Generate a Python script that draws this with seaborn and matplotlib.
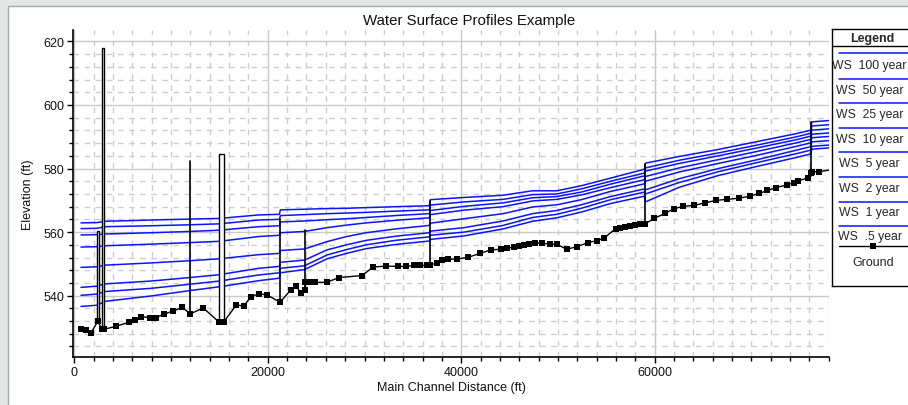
import numpy as np
import pandas as pd
import matplotlib
matplotlib.use('Agg')
import matplotlib.pyplot as plt
import seaborn as sns
from matplotlib.patches import Rectangle
from matplotlib.ticker import MultipleLocator

sns.set_theme(style='white')
plt.rcParams['font.family'] = ['Liberation Sans', 'DejaVu Sans']

# ---------------- data ----------------
ground_x = [684, 1200, 1685, 2413, 2818, 3060, 4335, 5609, 6297, 6914, 7844, 8471, 9271,
            10231, 11132, 11991, 13336, 14954, 15440, 16744, 17503, 18261, 19121, 19950,
            21265, 22398, 22914, 23400, 23845, 23895, 24410, 24900, 26090, 27364, 29710,
            30914, 32219, 33432, 34262, 35121, 35769, 36426, 36770, 37468, 37984, 38662,
            39532, 40735, 41949, 43052, 44083, 44771, 45459, 45975, 46501, 47016, 47634,
            48331, 49181, 49939, 50910, 51942, 53145, 54015, 54804, 55977, 56422, 56938,
            57454, 57969, 58485, 59011, 59941, 61077, 62035, 62966, 64078, 65211, 66354,
            67517, 68761, 69864, 70835, 71664, 72524, 73667, 74425, 74870, 75831, 76185,
            76286, 77004, 78600]
ground_z = [529.6, 529.1, 528.1, 531.9, 529.6, 529.4, 530.4, 531.6, 532.4, 533.4, 533.1, 533.1, 534.2,
            535.2, 536.3, 534.3, 536.1, 531.7, 531.7, 537.1, 536.7, 539.7, 540.6, 540.2,
            537.9, 541.9, 543.1, 540.8, 541.9, 544.2, 544.2, 544.2, 544.2, 545.7, 546.3,
            549.0, 549.3, 549.2, 549.2, 549.5, 549.5, 549.5, 549.7, 550.2, 551.1, 551.5,
            551.5, 552.1, 553.3, 554.4, 554.6, 555.0, 555.2, 555.5, 555.8, 556.3, 556.6,
            556.5, 556.2, 556.1, 554.6, 555.4, 556.7, 557.3, 558.2, 561.1, 561.4, 561.7,
            562.0, 562.2, 562.4, 562.6, 564.3, 565.9, 567.4, 568.1, 568.4, 569.2, 570.0,
            570.3, 570.7, 571.3, 572.2, 573.1, 574.0, 574.8, 575.6, 576.2, 577.0, 578.5,
            579.0, 579.0, 579.8]

ws_x = [684, 2350, 3160, 7915, 11960, 14995, 19040, 21200, 21300, 23800, 26120, 28140, 30165,
        33200, 36700, 36800, 40280, 44325, 47360, 49890, 52420, 55450, 58950, 59050, 62530,
        66575, 70620, 74670, 76150, 76250, 78500]
ws_100 = [562.9, 563.0, 563.4, 563.8, 564.1, 564.3, 565.4, 565.6, 567.0, 567.2, 567.4, 567.5, 567.7,
          568.0, 568.3, 570.2, 570.9, 571.6, 573.0, 573.0, 574.6, 577.0, 579.8, 581.7, 583.8,
          586.0, 588.5, 591.0, 592.1, 594.7, 595.2]
ws_50 = [561.1, 561.2, 561.7, 562.0, 562.3, 562.6, 563.8, 564.0, 565.2, 565.5, 565.8, 566.0, 566.2,
         566.6, 567.0, 568.5, 569.5, 570.3, 571.8, 572.0, 573.6, 576.0, 578.6, 580.2, 582.6,
         584.9, 587.4, 590.0, 591.1, 593.4, 593.9]
ws_25 = [559.1, 559.2, 559.4, 559.8, 560.2, 560.6, 561.7, 562.0, 563.2, 563.5, 563.9, 564.2, 564.6,
         565.2, 565.8, 566.8, 568.1, 569.2, 570.8, 571.2, 572.6, 575.1, 577.7, 579.2, 581.6,
         584.0, 586.5, 589.1, 590.2, 592.1, 592.6]
ws_10 = [555.3, 555.4, 555.7, 556.2, 556.7, 557.1, 558.6, 559.0, 559.8, 560.2, 561.4, 562.2, 562.9,
         563.7, 564.5, 565.5, 566.9, 568.0, 569.8, 570.3, 571.7, 574.0, 576.5, 577.5, 580.2,
         582.8, 585.4, 588.1, 589.2, 590.8, 591.3]
ws_5 = [548.9, 549.1, 549.6, 550.3, 551.0, 551.6, 552.9, 553.3, 554.2, 554.7, 557.0, 558.6, 559.8,
        561.0, 562.1, 562.8, 564.2, 565.8, 567.9, 568.6, 570.2, 572.8, 575.2, 576.0, 578.9,
        581.6, 584.2, 587.0, 588.1, 589.7, 590.2]
ws_2 = [542.6, 543.0, 543.7, 544.6, 545.7, 546.6, 548.6, 549.2, 550.5, 551.2, 554.4, 556.0, 557.4,
        558.7, 559.8, 560.3, 561.4, 563.5, 565.8, 566.8, 568.6, 571.2, 573.6, 573.3, 576.8,
        580.0, 582.8, 585.8, 586.9, 588.4, 588.9]
ws_1 = [540.1, 540.5, 541.3, 542.3, 543.6, 544.6, 546.5, 547.2, 548.6, 549.4, 552.8, 554.5, 556.0,
        557.4, 558.5, 559.0, 560.0, 562.1, 564.6, 565.6, 567.5, 570.2, 572.6, 572.0, 575.6,
        579.0, 581.9, 584.7, 585.8, 587.0, 587.5]
ws_05 = [536.6, 537.0, 538.2, 539.9, 541.6, 542.8, 544.7, 545.5, 547.2, 548.2, 551.6, 553.3, 554.8,
         556.1, 557.2, 557.7, 558.8, 561.0, 563.4, 564.5, 566.3, 569.0, 571.3, 569.5, 574.1,
         577.8, 580.7, 583.5, 584.6, 586.1, 586.6]

profiles = ['WS  100 year', 'WS  50 year', 'WS  25 year', 'WS  10 year',
            'WS  5 year', 'WS  2 year', 'WS  1 year', 'WS  .5 year']
ws_values = [ws_100, ws_50, ws_25, ws_10, ws_5, ws_2, ws_1, ws_05]

# structures (bridges / inline structures): left x, right x, bottom, top
struct_left = [2330, 2818, 11991, 14954, 21265, 23845, 36770, 59011, 76185]
struct_right = [2500, 3060, 11991, 15440, 21265, 23845, 36770, 59011, 76185]
struct_bottom = [531.9, 529.5, 534.3, 531.7, 537.9, 541.9, 549.7, 562.6, 577.5]
struct_top = [560.3, 617.8, 582.4, 584.6, 564.0, 560.8, 569.9, 581.5, 594.7]

x_ticks = [0, 20000, 40000, 60000]
y_ticks = [540, 560, 580, 600, 620]

# ---------------- figure ----------------
W, H = 908, 406
fig = plt.figure(figsize=(W / 100, H / 100), dpi=100)
fig.patch.set_facecolor('#e3e6e6')
fig.patches.append(Rectangle((8 / W, -0.01), 905 / W, 1 - 7 / H + 0.01, transform=fig.transFigure,
                             facecolor='white', edgecolor='#a8a8a8', lw=1, zorder=-10))

ax = fig.add_axes([72.7 / W, 1 - 358.3 / H, (829 - 72.7) / W, (358.3 - 31) / H])
ax.set_zorder(2)
ax.set_facecolor('white')

ws_df = pd.DataFrame({
    'x': np.tile(ws_x, len(profiles)),
    'z': np.concatenate(ws_values),
    'profile': np.repeat(profiles, len(ws_x)),
})
sns.lineplot(data=ws_df, x='x', y='z', hue='profile', palette={p: '#0a14ff' for p in profiles},
             estimator=None, sort=False, legend=False, lw=1.1, ax=ax, zorder=3)

for xl, xr, zb, zt in zip(struct_left, struct_right, struct_bottom, struct_top):
    if xl == xr:
        ax.plot([xl, xl], [zb, zt], color='black', lw=1.2, zorder=4)
    else:
        ax.add_patch(Rectangle((xl, zb), xr - xl, zt - zb, facecolor='white',
                               edgecolor='black', lw=1.0, zorder=4))

g_df = pd.DataFrame({'x': ground_x, 'z': ground_z})
sns.lineplot(data=g_df, x='x', y='z', color='black', marker='s', markersize=4.5,
             markeredgewidth=0, estimator=None, sort=False, lw=1.0, ax=ax, zorder=5)

ax.set_xlim(-175, 78030)
ax.set_ylim(520.6, 623.6)
ax.set_xticks(x_ticks)
ax.set_yticks(y_ticks)
ax.xaxis.set_minor_locator(MultipleLocator(2000))
ax.yaxis.set_minor_locator(MultipleLocator(4))
ax.grid(which='major', color='#c9c9c9', lw=1.0, ls='-')
ax.grid(which='minor', color='#cdcdcd', lw=1.0, ls=(0, (4, 4)))
ax.set_axisbelow(True)
for s in ['top', 'right']:
    ax.spines[s].set_visible(False)
for s in ['left', 'bottom']:
    ax.spines[s].set_color('black')
    ax.spines[s].set_linewidth(1.2)
ax.tick_params(which='both', bottom=True, left=True, direction='out', color='black')
ax.tick_params(which='major', length=4, width=1, labelsize=9, pad=2, labelcolor='#111111')
ax.tick_params(which='minor', length=3, width=1)
ax.set_xlabel('')
ax.set_ylabel('')

fig.text(469 / W, 1 - 21 / H, 'Water Surface Profiles Example', ha='center', va='center',
         fontsize=10.8, color='#111111')
fig.text(451 / W, 1 - 388 / H, 'Main Channel Distance (ft)', ha='center', va='center',
         fontsize=9, color='#111111')
fig.text(28 / W, 1 - 195 / H, 'Elevation (ft)', ha='center', va='center', rotation=90,
         fontsize=9, color='#111111')

# ---------------- legend box ----------------
L0, L1, T0, T1 = 832, 914, 30, 287
lax = fig.add_axes([L0 / W, 1 - T1 / H, (L1 - L0) / W, (T1 - T0) / H])
lax.set_zorder(3)
lax.set_xlim(L0, L1)
lax.set_ylim(T1, T0)
lax.set_xticks([])
lax.set_yticks([])
lax.set_facecolor('white')
for s in lax.spines.values():
    s.set_color('black')
    s.set_linewidth(1.0)
lax.text(872, 39.3, 'Legend', ha='center', va='center', fontsize=9, fontweight='bold')
lax.plot([L0, L1], [47.3, 47.3], color='black', lw=1.0)
line_y = [54, 79.5, 104, 128.5, 153.3, 178.3, 202.7, 227.3]
text_y = [66.5, 91, 115.5, 140, 164.5, 189, 213.5, 237.5]
for p, ly, ty in zip(profiles, line_y, text_y):
    lax.plot([839, L1], [ly, ly], color='#0a14ff', lw=1.1)
    lax.text(869.5, ty, p, ha='center', va='center', fontsize=8.8)
lax.plot([839, L1], [247, 247], color='black', lw=1.0)
lax.plot([873.3], [247], marker='s', color='black', markersize=4.5, markeredgewidth=0)
lax.text(873, 263, 'Ground', ha='center', va='center', fontsize=9)

fig.savefig('out.png', dpi=100, facecolor=fig.get_facecolor())
